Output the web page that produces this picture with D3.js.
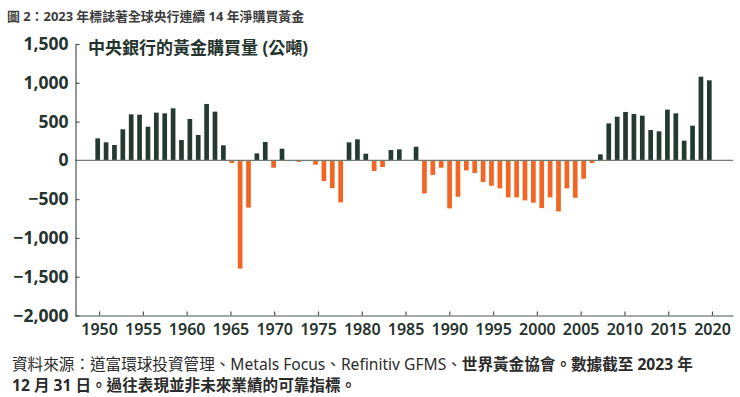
<!DOCTYPE html>
<html>
<head>
<meta charset="utf-8">
<script src="https://cdn.jsdelivr.net/npm/d3@7"></script>
<style>
  body { margin: 0; background: #fff; }
  svg text { font-family: "Noto Sans", "Noto Sans CJK TC", sans-serif; }
</style>
</head>
<body>
<svg id="chart" width="740" height="397"></svg>
<script>
// central bank net gold purchases, tonnes
var years = [1950, 1951, 1952, 1953, 1954, 1955, 1956, 1957, 1958, 1959,
  1960, 1961, 1962, 1963, 1964, 1965, 1966, 1967, 1968, 1969,
  1970, 1971, 1972, 1973, 1974, 1975, 1976, 1977, 1978, 1979,
  1980, 1981, 1982, 1983, 1984, 1985, 1986, 1987, 1988, 1989,
  1990, 1991, 1992, 1993, 1994, 1995, 1996, 1997, 1998, 1999,
  2000, 2001, 2002, 2003, 2004, 2005, 2006, 2007, 2008, 2009,
  2010, 2011, 2012, 2013, 2014, 2015, 2016, 2017, 2018, 2019,
  2020, 2021, 2022, 2023]
var tonnes = [284, 232, 198, 400, 593, 589, 434, 615, 606, 671,
  262, 533, 327, 727, 628, 194, -35, -1395, -610, 90,
  237, -95, 150, 0, -20, 0, -56, -267, -357, -542,
  232, 271, 86, -138, -86, 133, 142, -5, 176, -426,
  -189, -95, -619, -469, -129, -163, -280, -327, -361, -477,
  -477, -516, -546, -615, -477, -658, -361, -482, -237, -34,
  77, 477, 563, 624, 598, 576, 391, 374, 654, 606,
  254, 447, 1079, 1032]
var yTicks = [1500, 1000, 500, 0, -500, -1000, -1500, -2000]
var xTicks = [1950, 1955, 1960, 1965, 1970, 1975, 1980, 1985, 1990, 1995, 2000, 2005, 2010, 2015, 2020]

var colorBuy = "#243a30"
var colorSell = "#f26522"
var inkColor = "#24332c"

var svg = d3.select("#chart")

var yScale = d3.scaleLinear().domain([-2000, 1500]).range([315.5, 44])
var barScale = d3.scaleBand().domain(years).range([93.5, 713.5])
  .paddingInner(0.44).paddingOuter(0.22)
// the printed year axis is spaced a little wider than the bars
var axisScale = d3.scaleLinear().domain([1947.25, 2022.4]).range([75, 733])

// bars
svg.append("g").selectAll("rect")
  .data(years.map(function (y, i) { return { year: y, v: tonnes[i] } }))
  .enter().append("rect")
  .attr("x", function (d) { return barScale(d.year) })
  .attr("width", barScale.bandwidth())
  .attr("y", function (d) { return yScale(Math.max(d.v, 0)) })
  .attr("height", function (d) { return Math.abs(yScale(d.v) - yScale(0)) })
  .attr("fill", function (d) { return d.v < 0 ? colorSell : colorBuy })

// zero line
svg.append("line")
  .attr("x1", 75).attr("x2", 733)
  .attr("y1", yScale(0)).attr("y2", yScale(0))
  .attr("stroke", "#6f7d76").attr("stroke-width", 1.4)

// y axis
var yAxis = svg.append("g")
  .attr("transform", "translate(75.5,0)")
  .call(d3.axisLeft(yScale).tickValues(yTicks).tickSize(-4).tickSizeOuter(0).tickPadding(7)
    .tickFormat(d3.format(",")))
yAxis.selectAll("path, line").attr("stroke", "#4b5550").attr("stroke-width", 1.2)
yAxis.selectAll("text")
  .attr("fill", inkColor).attr("font-size", 17.5).attr("font-weight", 700)
  .attr("font-family", "'Noto Sans', sans-serif")
yAxis.selectAll(".tick").filter(function (d) { return d === 0 }).select("line").remove()

// x axis
var xAxis = svg.append("g")
  .attr("transform", "translate(0,315.5)")
  .call(d3.axisBottom(axisScale).tickValues(xTicks).tickSize(-4).tickSizeOuter(0).tickPadding(8)
    .tickFormat(d3.format("d")))
xAxis.selectAll("path, line").attr("stroke", "#4b5550").attr("stroke-width", 1.2)
xAxis.selectAll("text")
  .attr("fill", inkColor).attr("font-size", 16).attr("font-weight", 600)
  .attr("font-family", "'Noto Sans', sans-serif")

// figure heading
svg.append("text")
  .attr("x", 7).attr("y", 21)
  .attr("font-size", 12.9).attr("font-weight", 700).attr("fill", "#3c3c3c")
  .text("圖 2：2023 年標誌著全球央行連續 14 年淨購買黃金")

// chart title
svg.append("text")
  .attr("x", 88).attr("y", 54)
  .attr("font-size", 17).attr("font-weight", 700).attr("fill", inkColor)
  .text("中央銀行的黃金購買量 (公噸)")

// source note
var note = svg.append("text")
  .attr("x", 12).attr("y", 370)
  .attr("font-size", 15.6).attr("fill", "#2b2b2b")
note.append("tspan").attr("font-weight", 400)
  .text("資料來源：道富環球投資管理、Metals Focus、Refinitiv GFMS、")
note.append("tspan").attr("font-weight", 700)
  .text("世界黃金協會。數據截至 2023 年")
svg.append("text")
  .attr("x", 12).attr("y", 391)
  .attr("font-size", 15.6).attr("font-weight", 700).attr("fill", "#2b2b2b")
  .text("12 月 31 日。過往表現並非未來業績的可靠指標。")
</script>
</body>
</html>
